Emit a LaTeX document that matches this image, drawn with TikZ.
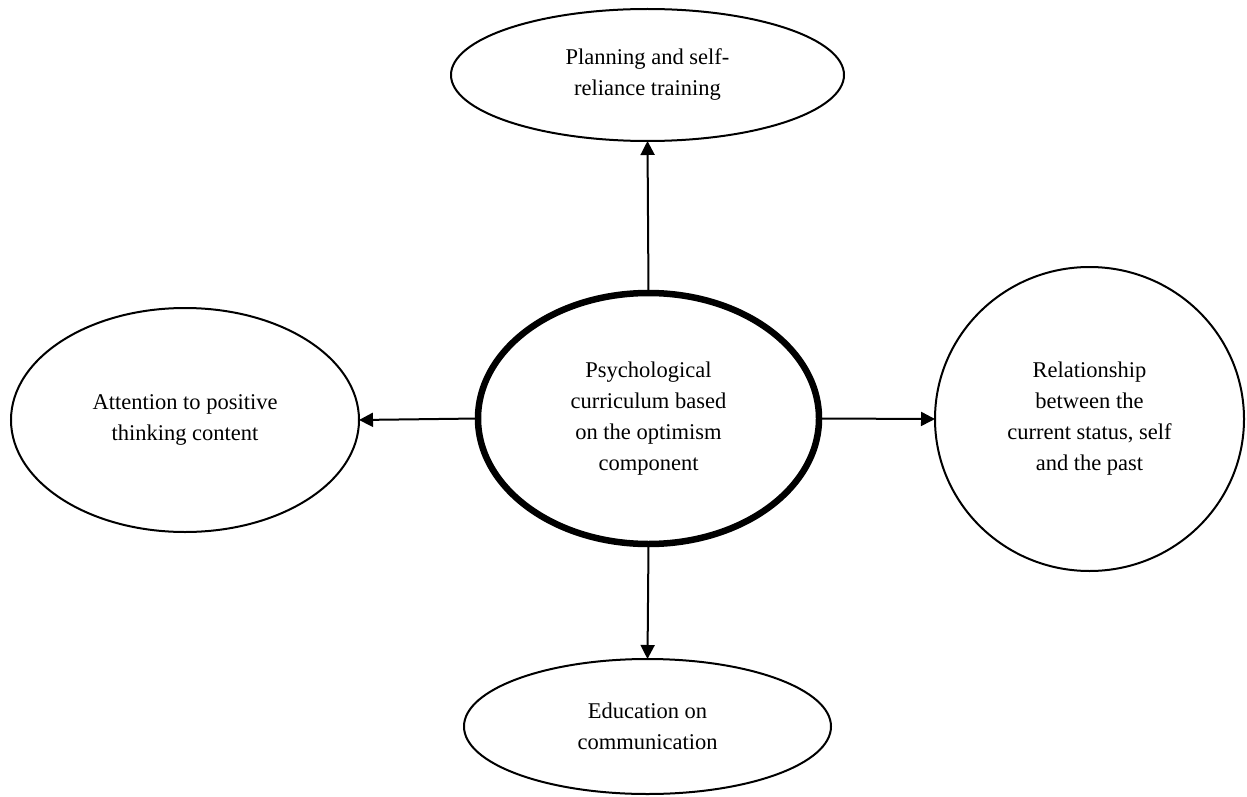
\documentclass[tikz,border=0pt]{standalone}
\usepackage{fontspec}
\setmainfont{Liberation Serif}
\usetikzlibrary{shapes.geometric,arrows.meta}
\begin{document}
\begin{tikzpicture}[x=1pt,y=-1pt,
  oval/.style={ellipse,draw,line width=2pt,inner sep=0pt,outer sep=0pt,align=center,
    font=\fontsize{22.5}{31}\selectfont},
  mainoval/.style={oval,line width=6.5pt},
  conn/.style={line width=2pt,-{Triangle[width=14pt,length=14pt]}}]
\useasboundingbox (0,0) rectangle (1247,797);
\node[mainoval,minimum width=341pt,minimum height=251pt] (c) at (648.5,418.5)
  {Psychological\\curriculum based\\on the optimism\\component};
\node[oval,minimum width=393pt,minimum height=132pt] (t) at (647.5,75)
  {Planning and self-\\reliance training};
\node[oval,minimum width=348pt,minimum height=224pt] (l) at (185,420)
  {Attention to positive\\thinking content};
\node[oval,minimum width=309pt,minimum height=304pt] (r) at (1089.5,419)
  {Relationship\\between the\\current status, self\\and the past};
\node[oval,minimum width=367pt,minimum height=135pt] (b) at (647.5,726.5)
  {Education on\\communication};
\draw[conn] (c.north) -- (t.south);
\draw[conn] (c.west) -- (l.east);
\draw[conn] (c.east) -- (r.west);
\draw[conn] (c.south) -- (b.north);
\end{tikzpicture}
\end{document}
